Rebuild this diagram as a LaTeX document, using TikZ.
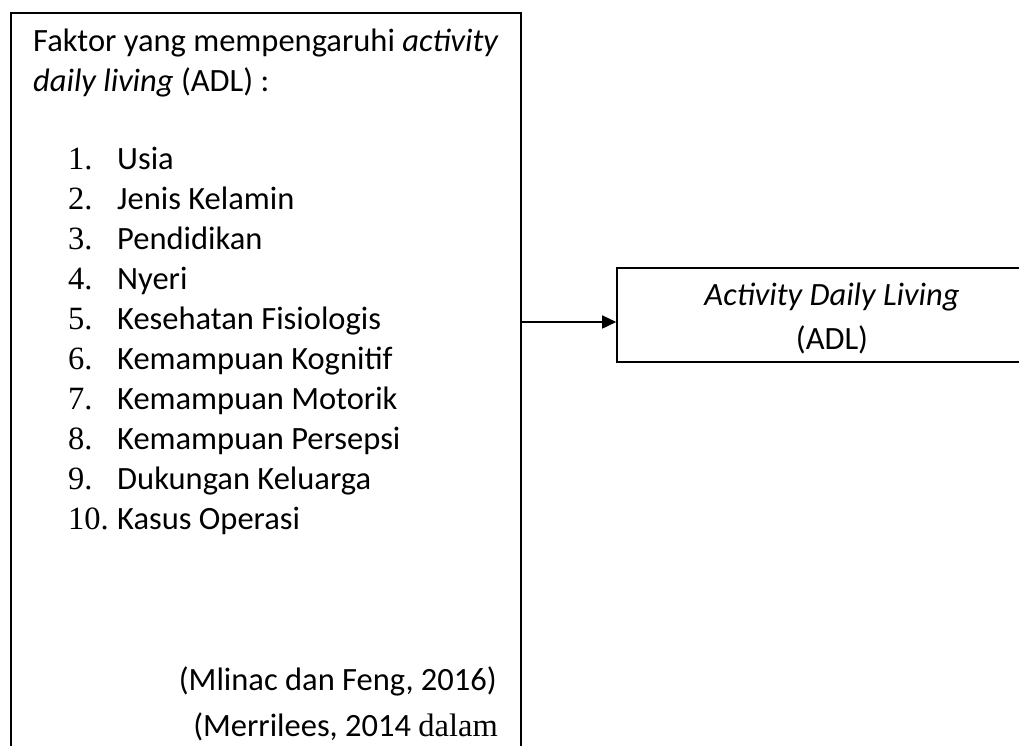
\documentclass[tikz,border=0pt]{standalone}
\usepackage{fontspec}
\setmainfont{Carlito}
\newfontfamily\numfont{Liberation Serif}
\usetikzlibrary{arrows.meta}

\tikzset{
  frame/.style={line width=1.6pt},
  txt/.style={anchor=base west, inner sep=0pt, font=\fontsize{32.5}{40}\selectfont},
  itemnum/.style={anchor=base west, inner sep=0pt, font=\fontsize{32.5}{40}\numfont},
  cite/.style={anchor=base east, inner sep=0pt, font=\fontsize{32.5}{40}\selectfont},
  mid/.style={anchor=base, inner sep=0pt, font=\fontsize{32.5}{40}\selectfont},
}

\begin{document}
\begin{tikzpicture}[x=1pt,y=-1pt]
  \useasboundingbox (0,0) rectangle (1019,745);

  % left box, open at the bottom
  \draw[frame] (11,760) -- (11,13) -- (521,13) -- (521,760);
  \coordinate (factorsE) at (521,322);

  \node[txt] (head1) at (33,51) {Faktor yang mempengaruhi \textit{activity}};
  \node[txt] (head2) at (33,91) {\textit{daily living} (ADL) :};

  \foreach \t [count=\i] in {Usia, Jenis Kelamin, Pendidikan, Nyeri,
      Kesehatan Fisiologis, Kemampuan Kognitif, Kemampuan Motorik,
      Kemampuan Persepsi, Dukungan Keluarga, Kasus Operasi} {
    \node[itemnum] (num\i) at (68,169+40*\i-40) {\i.};
    \node[txt] (item\i) at (117,169+40*\i-40) {\t};
  }

  \node[cite] (cite1) at (497,690) {(Mlinac dan Feng, 2016)};
  \node[cite] (cite2) at (498,736) {(Merrilees, 2014 {\numfont dalam}};

  % right box
  \node[frame, draw, minimum width=430pt, minimum height=94pt, inner sep=0pt]
    (adl) at (832,315) {};
  \node[mid] (adltitle) at (832,305) {\textit{Activity Daily Living}};
  \node[mid] (adlabbr) at (832,349) {(ADL)};

  \draw[frame, -{Triangle[length=14pt,width=13pt]}] (factorsE) -- (factorsE -| adl.west);
\end{tikzpicture}
\end{document}
